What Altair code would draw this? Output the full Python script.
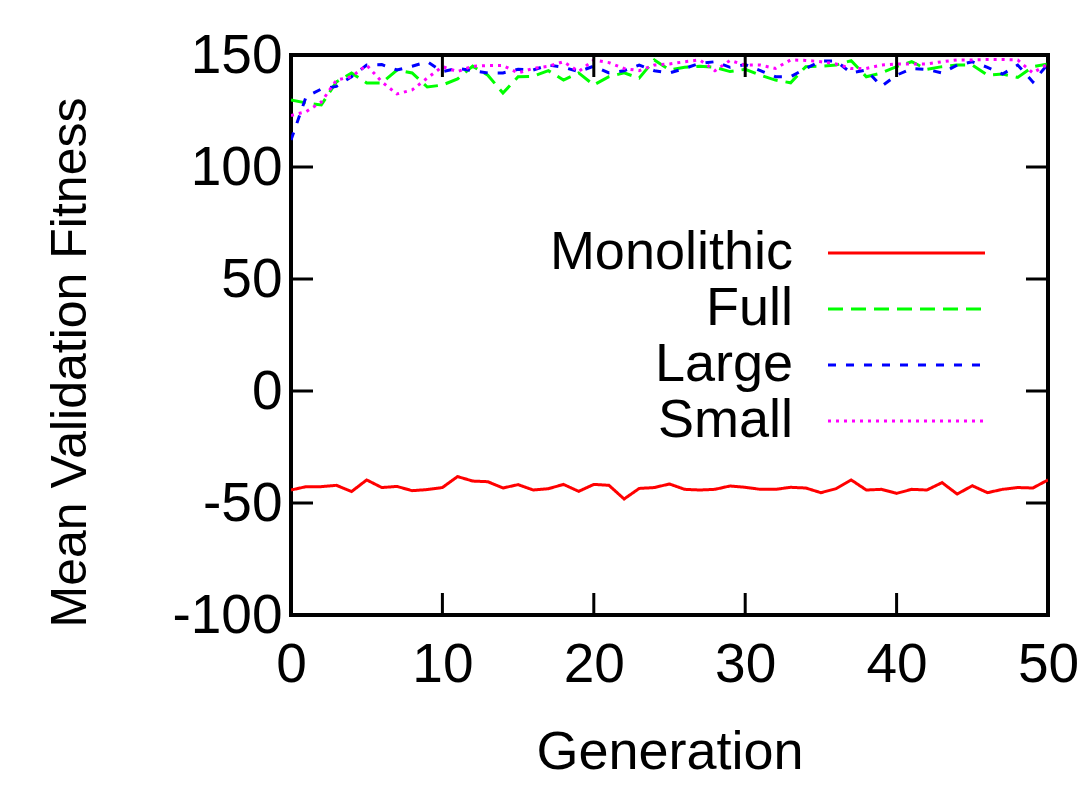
import altair as alt
import pandas as pd

generation = list(range(51))
monolithic = [-44.2, -42.7, -42.7, -42.1, -44.9, -39.7, -43.1, -42.6, -44.5, -44.0,
              -43.1, -38.2, -40.2, -40.5, -43.3, -41.8, -44.2, -43.6, -41.7, -44.8,
              -41.7, -42.1, -48.2, -43.5, -43.1, -41.5, -43.9, -44.2, -43.9, -42.4,
              -43.0, -43.9, -43.9, -43.0, -43.3, -45.4, -43.6, -39.7, -44.2, -43.9,
              -45.7, -43.9, -44.2, -40.9, -46.0, -42.3, -45.4, -43.9, -43.1, -43.3,
              -39.7]
full = [129.9, 128.6, 127.7, 138.0, 142.0, 137.5, 137.5, 143.3, 142.0, 135.7,
        136.6, 139.3, 145.0, 141.0, 133.0, 140.3, 140.5, 143.0, 138.8, 142.0,
        136.6, 140.3, 142.0, 139.7, 147.8, 143.3, 144.5, 145.0, 144.5, 142.6,
        143.6, 141.0, 138.8, 137.6, 144.8, 145.0, 145.5, 147.5, 140.3, 142.0,
        144.8, 147.0, 143.6, 144.8, 145.5, 145.5, 141.0, 141.5, 140.0, 144.8,
        146.0]
large = [112.0, 131.4, 134.8, 136.0, 140.3, 145.5, 145.7, 143.3, 145.0, 147.0,
         142.6, 144.0, 143.0, 142.0, 142.0, 143.6, 143.3, 145.5, 144.5, 142.6,
         145.0, 142.0, 143.0, 145.5, 143.0, 142.0, 144.0, 146.3, 147.0, 144.5,
         145.7, 143.0, 140.3, 140.3, 144.0, 147.3, 147.3, 142.0, 143.3, 136.0,
         141.0, 144.0, 143.6, 142.0, 145.5, 147.0, 144.5, 141.5, 145.5, 138.0,
         146.0]
small = [123.0, 124.7, 129.0, 138.8, 140.3, 145.5, 138.0, 132.6, 134.4, 139.7,
         144.8, 142.6, 145.0, 145.3, 145.3, 142.0, 144.0, 145.0, 147.0, 142.6,
         147.8, 146.6, 144.0, 143.0, 145.5, 146.0, 147.0, 147.8, 143.0, 147.6,
         145.5, 145.5, 144.0, 147.8, 147.6, 147.0, 146.0, 144.0, 144.0, 145.5,
         146.0, 146.0, 146.0, 147.0, 147.8, 147.8, 148.0, 148.0, 147.8, 142.0,
         146.0]
series_names = ["Monolithic", "Full", "Large", "Small"]
x_ticks = [0, 10, 20, 30, 40, 50]
y_ticks = [-100, -50, 0, 50, 100, 150]

W, H = 757, 560
FONT = "Liberation Sans"
FS = 55
FS_BIG = 54

frames = []
for name, vals in zip(series_names, [monolithic, full, large, small]):
    frames.append(pd.DataFrame({"generation": generation, "fitness": vals, "series": name}))
df = pd.concat(frames, ignore_index=True)

color_scale = alt.Scale(domain=series_names, range=["#ff0000", "#00ff00", "#0000ff", "#ff00ff"])
dash_scale = alt.Scale(domain=series_names, range=[[1, 0], [15, 8], [8, 10], [3, 5]])

xscale = alt.Scale(domain=[0, 50], nice=False, zero=False)
yscale = alt.Scale(domain=[-100, 150], nice=False, zero=False)

lines = alt.Chart(df).mark_line(strokeWidth=3, clip=True).encode(
    x=alt.X("generation:Q", scale=xscale,
            axis=alt.Axis(values=x_ticks, title="Generation", domain=False, ticks=False,
                          grid=False, labelFont=FONT, labelFontSize=FS, labelColor="black",
                          labelPadding=23, labelFlush=False,
                          labelExpr="'' + datum.value",
                          titleFont=FONT, titleFontSize=FS_BIG, titleFontWeight="normal",
                          titleColor="black", titleX=W / 2, titleY=137,
                          titleBaseline="middle", titleAlign="center")),
    y=alt.Y("fitness:Q", scale=yscale,
            axis=alt.Axis(values=y_ticks, title="Mean Validation Fitness", domain=False,
                          ticks=False, grid=False, labelFont=FONT, labelFontSize=FS,
                          labelColor="black", labelPadding=9, labelFlush=False,
                          labelExpr="'' + datum.value",
                          titleFont=FONT, titleFontSize=50, titleFontWeight="normal",
                          titleColor="black", titleX=-221, titleY=307, titleAngle=270,
                          titleBaseline="middle", titleAlign="center")),
    color=alt.Color("series:N", scale=color_scale, legend=None),
    strokeDash=alt.StrokeDash("series:N", scale=dash_scale, legend=None),
    detail="series:N",
)

xt = pd.DataFrame({"t": x_ticks})
yt = pd.DataFrame({"t": y_ticks})
TL = 22
xticks_bottom = alt.Chart(xt).mark_rule(color="black", strokeWidth=3).encode(
    x=alt.X("t:Q", scale=xscale), y=alt.value(H), y2=alt.value(H - TL))
xticks_top = alt.Chart(xt).mark_rule(color="black", strokeWidth=3).encode(
    x=alt.X("t:Q", scale=xscale), y=alt.value(0), y2=alt.value(TL))
yticks_left = alt.Chart(yt).mark_rule(color="black", strokeWidth=3).encode(
    y=alt.Y("t:Q", scale=yscale), x=alt.value(0), x2=alt.value(TL))
yticks_right = alt.Chart(yt).mark_rule(color="black", strokeWidth=3).encode(
    y=alt.Y("t:Q", scale=yscale), x=alt.value(W), x2=alt.value(W - TL))

leg = pd.DataFrame({"series": series_names, "idx": list(range(len(series_names)))})
legend_base = alt.Chart(leg).transform_calculate(ly="198 + 56 * datum.idx")
legend_text = legend_base.mark_text(align="right", baseline="middle", font=FONT,
                                    fontSize=FS_BIG, color="black").encode(
    x=alt.value(502), y=alt.Y("ly:Q", scale=None), text="series:N")
legend_lines = legend_base.mark_rule(strokeWidth=3).encode(
    x=alt.value(537), x2=alt.value(694), y=alt.Y("ly:Q", scale=None),
    color=alt.Color("series:N", scale=color_scale, legend=None),
    strokeDash=alt.StrokeDash("series:N", scale=dash_scale, legend=None))

chart = alt.layer(lines, xticks_bottom, xticks_top, yticks_left, yticks_right,
                  legend_text, legend_lines).properties(
    width=W, height=H,
    autosize=alt.AutoSizeParams(type="none"),
    padding={"left": 283, "top": 47, "right": 32, "bottom": 166},
    background="white",
).configure_view(stroke="black", strokeWidth=4)

chart.save("out.html", embed_options={"renderer": "svg", "actions": False})
